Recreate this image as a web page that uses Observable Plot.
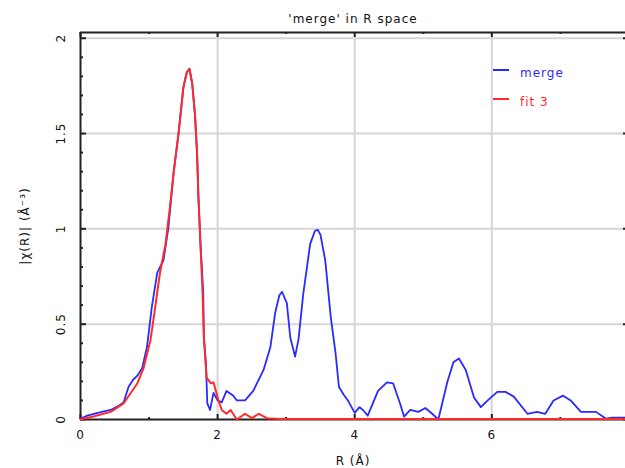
<!DOCTYPE html>
<html>
<head>
<meta charset="utf-8">
<script src="https://cdn.jsdelivr.net/npm/d3@7"></script>
<script src="https://cdn.jsdelivr.net/npm/@observablehq/plot@0.6"></script>
<style>
  html, body { margin: 0; padding: 0; background: #fff; }
  #chart svg { display: block; }
  #chart text { letter-spacing: 1px; }
</style>
</head>
<body>
<div id="chart"></div>
<script>
// ---- data ----
const chartTitle = "'merge' in R space";
const xLabel = "R (Å)";
const yLabel = "|χ(R)| (Å⁻³)";
const seriesNames = ["merge", "fit 3"];
const seriesColors = ["#2a2aff", "#ff2a2a"];

const mergeR = [0, 0.1, 0.25, 0.44, 0.55, 0.63, 0.7, 0.77, 0.83, 0.9, 0.97, 1.04, 1.12, 1.21, 1.28, 1.36, 1.43, 1.5, 1.55, 1.59, 1.63, 1.67, 1.70, 1.72, 1.75, 1.79, 1.80, 1.83, 1.85, 1.89, 1.94, 2.0, 2.06, 2.13, 2.23, 2.28, 2.4, 2.52, 2.67, 2.77, 2.84, 2.9, 2.94, 3.01, 3.06, 3.13, 3.18, 3.25, 3.35, 3.42, 3.46, 3.5, 3.57, 3.65, 3.72, 3.77, 3.84, 3.9, 4.0, 4.07, 4.12, 4.19, 4.34, 4.47, 4.56, 4.66, 4.72, 4.81, 4.93, 5.03, 5.13, 5.22, 5.35, 5.44, 5.52, 5.62, 5.74, 5.84, 5.94, 6.08, 6.2, 6.32, 6.52, 6.66, 6.78, 6.9, 7.04, 7.15, 7.3, 7.52, 7.66, 7.76, 7.96];
const mergeChi = [0.005, 0.02, 0.035, 0.05, 0.07, 0.09, 0.17, 0.21, 0.23, 0.27, 0.38, 0.59, 0.77, 0.835, 1.0, 1.30, 1.50, 1.74, 1.82, 1.84, 1.76, 1.60, 1.40, 1.17, 0.92, 0.67, 0.43, 0.29, 0.085, 0.05, 0.14, 0.10, 0.09, 0.15, 0.125, 0.10, 0.10, 0.15, 0.26, 0.38, 0.56, 0.65, 0.67, 0.61, 0.43, 0.33, 0.42, 0.66, 0.92, 0.99, 0.995, 0.97, 0.835, 0.54, 0.35, 0.17, 0.13, 0.10, 0.035, 0.065, 0.05, 0.02, 0.15, 0.195, 0.19, 0.085, 0.015, 0.05, 0.04, 0.06, 0.03, 0.0, 0.195, 0.30, 0.32, 0.26, 0.115, 0.065, 0.10, 0.145, 0.145, 0.12, 0.03, 0.04, 0.03, 0.10, 0.125, 0.10, 0.04, 0.04, 0.005, 0.01, 0.01];

const fitR = [0, 0.2, 0.44, 0.63, 0.83, 0.92, 1.02, 1.09, 1.16, 1.24, 1.3, 1.36, 1.43, 1.5, 1.55, 1.59, 1.63, 1.67, 1.70, 1.72, 1.75, 1.78, 1.80, 1.84, 1.9, 1.94, 2.0, 2.06, 2.13, 2.19, 2.28, 2.4, 2.5, 2.6, 2.72, 2.9, 7.96];
const fitChi = [0, 0.017, 0.04, 0.085, 0.19, 0.27, 0.415, 0.59, 0.77, 0.92, 1.1, 1.30, 1.50, 1.74, 1.82, 1.84, 1.76, 1.60, 1.40, 1.17, 0.92, 0.67, 0.43, 0.22, 0.19, 0.195, 0.115, 0.05, 0.03, 0.05, 0.0, 0.03, 0.007, 0.03, 0.007, 0.003, 0.003];

const xMajor = [0, 2, 4, 6];
const xMinor = [1, 3, 5, 7];
const xGrid = [2, 4, 6];
const yMajor = [0, 0.5, 1, 1.5, 2];
const yMinor = [0.1, 0.2, 0.3, 0.4, 0.6, 0.7, 0.8, 0.9, 1.1, 1.2, 1.3, 1.4, 1.6, 1.7, 1.8, 1.9];
const yGrid = [0.5, 1, 1.5, 2];
const xDomain = [0, 7.95];
const yDomain = [0, 2.03];

// ---- build ----
const merge = mergeR.map((r, i) => ({r, v: mergeChi[i]}));
const fit = fitR.map((r, i) => ({r, v: fitChi[i]}));

const W = 625, H = 468, mL = 80, mR = 0, mT = 32, mB = 49;
const innerH = H - mT - mB;
const font = "DejaVu Sans, Verdana, sans-serif";
const fs = 12;

const plot = Plot.plot({
  width: W, height: H,
  marginLeft: mL, marginRight: mR, marginTop: mT, marginBottom: mB,
  style: {fontFamily: font, fontSize: fs + "px", color: "#111", background: "#fff"},
  x: {domain: xDomain, axis: null},
  y: {domain: yDomain, axis: null},
  marks: [
    Plot.ruleX(xGrid, {stroke: "#d6d6d6", strokeWidth: 2}),
    Plot.ruleY(yGrid, {stroke: "#d6d6d6", strokeWidth: 2}),
    // frame
    Plot.ruleY([yDomain[0]], {stroke: "#222", strokeWidth: 2}),
    Plot.ruleY([yDomain[1]], {stroke: "#222", strokeWidth: 2}),
    Plot.ruleX([xDomain[0]], {stroke: "#222", strokeWidth: 2}),
    // inward ticks bottom / top
    Plot.ruleX(xMajor, {insetTop: innerH - 5, stroke: "#222", strokeWidth: 2}),
    Plot.ruleX(xMinor, {insetTop: innerH - 2, stroke: "#222", strokeWidth: 2}),
    Plot.ruleX(xMajor, {insetBottom: innerH - 5, stroke: "#222", strokeWidth: 2}),
    Plot.ruleX(xMinor, {insetBottom: innerH - 2, stroke: "#222", strokeWidth: 2}),
    // inward ticks left / right
    Plot.ruleY(yMajor, {insetRight: W - mL - mR - 6, stroke: "#222", strokeWidth: 2}),
    Plot.ruleY(yMinor, {insetRight: W - mL - mR - 3, stroke: "#222", strokeWidth: 2}),
    Plot.ruleY(yMajor, {insetLeft: W - mL - mR - 2, stroke: "#222", strokeWidth: 2}),
    // data lines
    Plot.line(merge, {x: "r", y: "v", stroke: seriesColors[0], strokeWidth: 1.8}),
    Plot.line(fit, {x: "r", y: "v", stroke: seriesColors[1], strokeWidth: 2}),
    // tick labels
    Plot.text(xMajor, {x: d => d, frameAnchor: "bottom", dy: 16, lineAnchor: "middle", text: d => String(d), fontSize: fs}),
    Plot.text(yMajor, {y: d => d, frameAnchor: "left", dx: -19, rotate: -90, textAnchor: "middle", lineAnchor: "middle", text: d => String(d), fontSize: fs}),
    // titles
    Plot.text([chartTitle], {frameAnchor: "top", dy: -13, lineAnchor: "middle", text: d => d, fontSize: fs}),
    Plot.text([xLabel], {frameAnchor: "bottom", dy: 42, lineAnchor: "middle", text: d => d, fontSize: fs}),
    Plot.text([yLabel], {frameAnchor: "left", dx: -55, rotate: -90, textAnchor: "middle", lineAnchor: "middle", text: d => d, fontSize: fs})
  ]
});

// legend
const svg = d3.select(plot);
const lg = svg.append("g").attr("font-family", font).attr("font-size", fs)
  .attr("text-anchor", "start").attr("letter-spacing", "1px");
seriesNames.forEach((name, i) => {
  const yy = 70 + i * 29;
  lg.append("line").attr("x1", 493).attr("x2", 509).attr("y1", yy).attr("y2", yy)
    .attr("stroke", seriesColors[i]).attr("stroke-width", 2);
  lg.append("text").attr("x", 520).attr("y", yy + 3).attr("dy", "0.32em")
    .attr("fill", seriesColors[i]).text(name);
});

document.getElementById("chart").appendChild(plot);
</script>
</body>
</html>
